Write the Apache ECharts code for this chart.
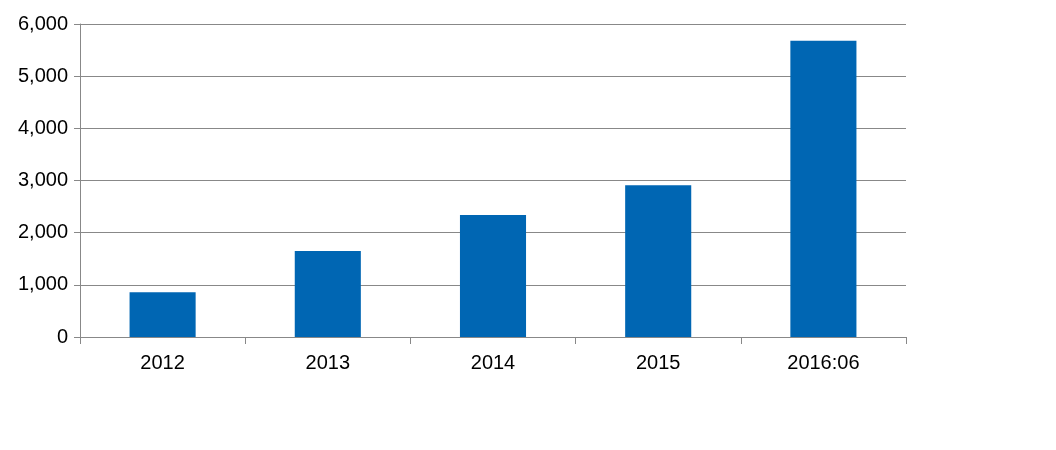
<!DOCTYPE html>
<html><head><meta charset="utf-8">
<script src="https://cdn.jsdelivr.net/npm/echarts@6/dist/echarts.min.js"></script>
<style>html,body{margin:0;padding:0;background:#fff}#c{width:1056px;height:450px}</style>
</head><body><div id="c"></div>
<script>
const categories = ['2012','2013','2014','2015','2016:06'];
const values = [860, 1650, 2340, 2910, 5680];
const chart = echarts.init(document.getElementById('c'));
chart.setOption({
  animation:false,
  grid:{left:80,right:150,top:24,bottom:113},
  xAxis:{type:'category',data:categories,
    axisLine:{lineStyle:{color:'#888',width:1}},
    axisTick:{show:true,length:7,lineStyle:{color:'#888'}},
    axisLabel:{color:'#000',fontSize:20,fontFamily:'Liberation Sans',margin:16}},
  yAxis:{type:'value',min:0,max:6000,interval:1000,
    axisLine:{show:true,lineStyle:{color:'#888'}},
    axisTick:{show:true,length:6,lineStyle:{color:'#888'}},
    splitLine:{lineStyle:{color:'#888',width:1}},
    axisLabel:{color:'#000',fontSize:20,fontFamily:'Liberation Sans',margin:12}},
  series:[{type:'bar',data:values,barWidth:'40%',itemStyle:{color:'#0066B3'}}]
});
</script></body></html>
